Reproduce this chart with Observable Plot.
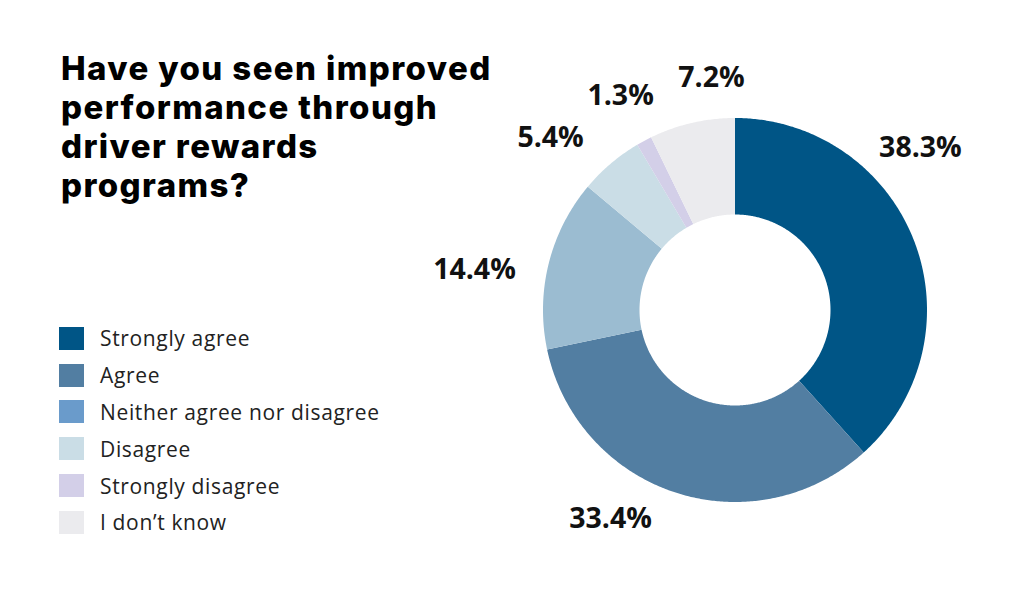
<!DOCTYPE html>
<html>
<head>
<meta charset="utf-8">
<script src="https://cdn.jsdelivr.net/npm/d3@7"></script>
<script src="https://cdn.jsdelivr.net/npm/@observablehq/plot@0.6"></script>
<style>
  html, body { margin: 0; padding: 0; background: #ffffff; }
  #wrap { position: relative; width: 1024px; height: 597px; overflow: hidden; }
  #chart { position: absolute; left: 0; top: 0; }
  #title {
    position: absolute; left: 61px; top: 49px; width: 500px; white-space: nowrap;
    font-family: "Inter", "DejaVu Sans", sans-serif; font-weight: 800;
    font-size: 33px; line-height: 39px; color: #000; letter-spacing: 1.4px;
  }
  #legend { position: absolute; left: 59px; top: 320px; font-family: "Open Sans", sans-serif; }
  .row { display: flex; align-items: center; height: 36.8px; }
  .sw { width: 25px; height: 23px; margin-right: 16px; }
  .lb { font-size: 21px; color: #222; letter-spacing: 0.65px; }
</style>
</head>
<body>
<div id="wrap">
  <div id="chart"></div>
  <div id="title">Have you seen improved<br>performance through<br>driver rewards<br>programs?</div>
  <div id="legend"></div>
</div>
<script>
// ---- data ----
const categories = ["Strongly agree", "Agree", "Neither agree nor disagree", "Disagree", "Strongly disagree", "I don\u2019t know"];
const values = [38.3, 33.4, 14.4, 5.4, 1.3, 7.2];
const labels = ["38.3%", "33.4%", "14.4%", "5.4%", "1.3%", "7.2%"];
const sliceColors = ["#005586", "#527ea2", "#9bbcd1", "#cadde6", "#d3cfe8", "#ebebee"];
const legendColors = ["#005586", "#527ea2", "#6a9bcb", "#cadde6", "#d3cfe8", "#ebebee"];

// ---- layout ----
const W = 1024, H = 597;
const cx = 735, cy = 310, R = 192;       // donut centre and outer radius in px
const inner = 95.5 / R;                   // inner radius as fraction of outer
// label placement: [angle in degrees clockwise from 12 o'clock, distance in units of R]
const labelPlacement = [[48.6, 1.284], [211, 1.264], [278.9, 1.376], [313.1, 1.319], [331.9, 1.270], [354.1, 1.220]];

// ---- build sector outlines from values ----
const total = d3.sum(values);
const cum = d3.cumsum(values);
const pts = [];
categories.forEach((c, i) => {
  const a0 = (i === 0 ? 0 : cum[i - 1]) / total * 2 * Math.PI;
  const a1 = cum[i] / total * 2 * Math.PI;
  const n = Math.max(2, Math.ceil((a1 - a0) / (Math.PI / 360)));
  for (let k = 0; k <= n; k++) {
    const a = a0 + (a1 - a0) * k / n;
    pts.push({cat: c, ox: Math.sin(a), oy: Math.cos(a), ix: inner * Math.sin(a), iy: inner * Math.cos(a)});
  }
});
const labelData = labels.map((t, i) => {
  const [deg, r] = labelPlacement[i];
  const a = deg * Math.PI / 180;
  return {t, x: r * Math.sin(a), y: r * Math.cos(a)};
});

const plot = Plot.plot({
  width: W, height: H,
  margin: 0,
  x: {domain: [-cx / R, (W - cx) / R], axis: null},
  y: {domain: [-(H - cy) / R, cy / R], axis: null},
  color: {domain: categories, range: sliceColors},
  style: {background: "transparent"},
  marks: [
    Plot.area(pts, {x1: "ox", y1: "oy", x2: "ix", y2: "iy", z: "cat", fill: "cat", curve: "linear"}),
    Plot.text(labelData, {x: "x", y: "y", text: "t", textAnchor: "middle", lineAnchor: "middle",
      fontSize: 28.5, fontWeight: "bold", fontFamily: "Open Sans", fill: "#111"})
  ]
});
document.getElementById("chart").appendChild(plot);

const legend = document.getElementById("legend");
categories.forEach((c, i) => {
  const row = document.createElement("div");
  row.className = "row";
  row.innerHTML = `<div class="sw" style="background:${legendColors[i]}"></div><div class="lb">${c}</div>`;
  legend.appendChild(row);
});
</script>
</body>
</html>
